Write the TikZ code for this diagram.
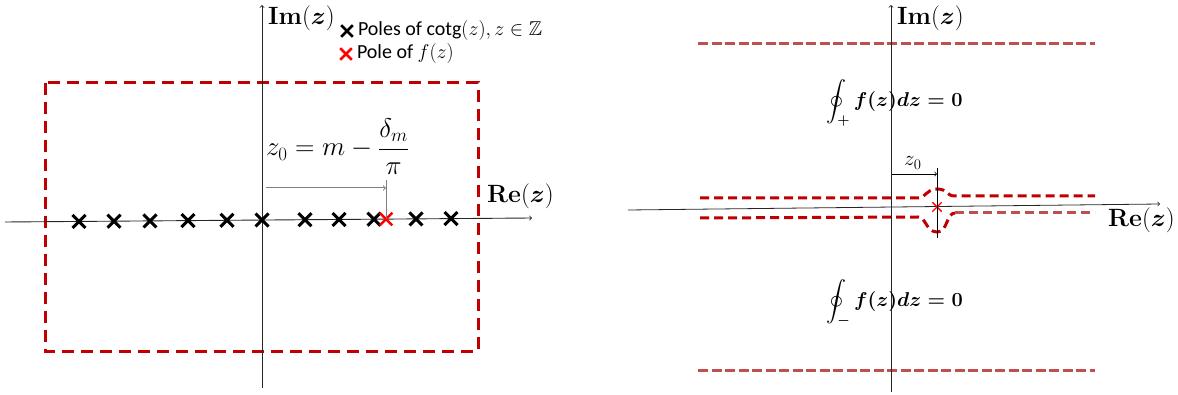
\RequirePackage{fix-cm}
\documentclass[tikz,border=0pt]{standalone}
\usepackage{amsmath,amssymb}
\usepackage[no-math]{fontspec}
\newfontfamily\calibri{Carlito}
\usetikzlibrary{shapes.misc,positioning}
\definecolor{darkred}{HTML}{C00000}
\definecolor{softred}{HTML}{C0504D}
\tikzset{
  axis/.style={->, line width=0.9pt, black!85},
  pole/.style={cross out, draw, line width=3pt, minimum size=10pt, inner sep=0pt},
  contour/.style={darkred, line width=3pt, dash pattern=on 12pt off 7pt},
  strip/.style={darkred, line width=3pt, dash pattern=on 9pt off 5pt},
  bound/.style={softred, line width=3pt, dash pattern=on 10pt off 3.5pt},
  lbl/.style={inner sep=0pt, anchor=base west, font=\fontsize{25}{30}\selectfont},
  legendtext/.style={inner sep=0pt, anchor=west, font=\calibri\fontsize{20}{24}\selectfont}
}
\begin{document}
\begin{tikzpicture}[x=1pt, y=-1pt, >=to]
\useasboundingbox (0,0) rectangle (1178,395);
% left panel: poles of cotg on the real axis
\coordinate (xl0) at (5,222);
\coordinate (xl1) at (532,218);
\coordinate (yl0) at (262,388);
\coordinate (yl1) at (262,5);
\draw[contour] (45,83) rectangle (478,351);
\draw[axis] (xl0) -- (xl1);
\draw[axis] (yl0) -- (yl1);
\foreach \x/\y [count=\i] in {79/221.4,114/221.2,150/220.9,188/220.6,227/220.3,262/220.0,305/219.7,339/219.5,374/219.2,416/218.9,451/218.6}
  \node[pole] (p\i) at (\x,\y) {};
\node[pole, red, line width=2.6pt] (z0) at (386,219.1) {};
\node[lbl] (iml) at (268,25) {$\mathbf{Im}(\boldsymbol{z})$};
\node[lbl] (rel) at (487,203) {$\mathbf{Re}(\boldsymbol{z})$};
% legend
\node[pole, minimum size=9pt, line width=2.6pt] (lg1) at (347,31) {};
\node[legendtext, right=5pt of lg1.east] (lt1) {Poles of cotg$(z), z\in\mathbb{Z}$};
\node[pole, red, minimum size=9pt, line width=2.6pt] (lg2) at (346,54) {};
\node[legendtext, right=5pt of lg2.east] (lt2) {Pole of $f(z)$};
% distance to z0
\coordinate (m0) at (386,180);
\coordinate (a0) at (266,188);
\coordinate (a1) at (386,188);
\draw[gray, line width=1pt] (z0.center) -- (m0);
\draw[->, gray, line width=1pt] (a0) -- (a1);
\node[lbl, font=\fontsize{27}{32}\selectfont] (f0) at (266,156) {$z_0 = m - \dfrac{\delta_m}{\pi}$};
% right panel: strip contour around z0
\coordinate (xr0) at (628,210);
\coordinate (xr1) at (1160,204);
\coordinate (yr0) at (891,392);
\coordinate (yr1) at (891,5);
\draw[bound] (698,44) -- (1095,44);
\draw[bound] (698,370) -- (1095,370);
\draw[strip] (700,198) -- (918,198) .. controls (926,198) and (926,189) .. (937,189)
  .. controls (948,189) and (946,196) .. (955,196) -- (1095,196);
\draw[strip] (700,218) -- (918,217) .. controls (926,217) and (926,232) .. (937,232)
  .. controls (948,232) and (946,213) .. (955,213);
\draw[strip, softred] (955,213) -- (1095,213);
\draw[axis, line width=0.8pt] (xr0) -- (xr1);
\draw[axis, line width=0.8pt] (yr0) -- (yr1);
\node[cross out, draw, red, line width=1.4pt, minimum size=8pt, inner sep=0pt] (z1) at (937,207) {};
\coordinate (t0) at (937,168);
\coordinate (t1) at (937,238);
\draw[line width=0.8pt] (t0) -- (t1);
\coordinate (b0) at (892,174);
\coordinate (b1) at (937,174);
\draw[->, line width=0.8pt] (b0) -- (b1);
\node[lbl, font=\fontsize{21}{25}\selectfont] (zr) at (904,166) {$z_0$};
\node[lbl] (imr) at (897,25) {$\mathbf{Im}(\boldsymbol{z})$};
\node[lbl] (rer) at (1108,227) {$\mathbf{Re}(\boldsymbol{z})$};
\node[lbl, font=\fontsize{20}{24}\selectfont] (i1) at (826,107) {$\displaystyle\boldsymbol{\oint_{+} f(z)dz=0}$};
\node[lbl, font=\fontsize{20}{24}\selectfont] (i2) at (826,307) {$\displaystyle\boldsymbol{\oint_{-} f(z)dz=0}$};
\end{tikzpicture}
\end{document}
